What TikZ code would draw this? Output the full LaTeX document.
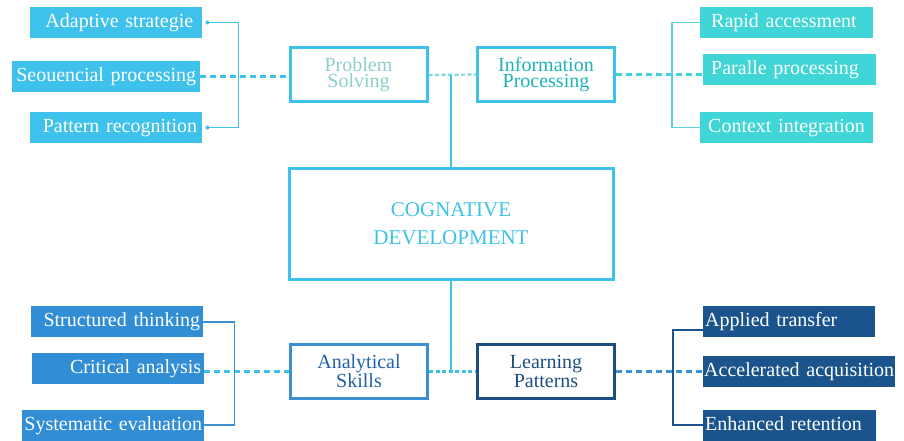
\documentclass[tikz,border=0pt]{standalone}
\usepackage{fontspec}
\setmainfont{Liberation Serif}
\usepackage{tikz}

\definecolor{skyc}{HTML}{3EC1EA}
\definecolor{turq}{HTML}{40D5D6}
\definecolor{midb}{HTML}{318ED5}
\definecolor{navy}{HTML}{1B548C}
\definecolor{psgrey}{HTML}{8CCFC9}
\definecolor{iptext}{HTML}{1DB3B8}
\definecolor{astext}{HTML}{2060A8}
\definecolor{asline}{HTML}{3A90D2}
\definecolor{lpline}{HTML}{1D4E80}
\definecolor{paleturq}{HTML}{5CCFE0}
\definecolor{midline}{HTML}{7FD6DC}

\tikzset{
  item/.style={anchor=west, fill=#1, text=white, inner ysep=0pt,
    minimum height=31pt, text height=14pt, text depth=4pt, font=\fontsize{20}{22}\selectfont},
  hub/.style={draw=#1, line width=3pt, minimum width=137pt, minimum height=54pt,
    align=center, font=\fontsize{20}{16}\selectfont},
  dots/.style={draw=#1, line width=3pt, dash pattern=on 6pt off 4pt},
  fine dots/.style={draw=#1, line width=2.2pt, dash pattern=on 4pt off 2.5pt},
  fork/.style={draw=#1, line width=1.5pt},
}

\begin{document}
\begin{tikzpicture}[x=1pt,y=-1pt]
     \useasboundingbox (0,0) rectangle (904,441);
     \node[item=skyc, inner xsep=9pt, text width=154pt, align=right] (ada) at (30,22.5) {Adaptive strategie};
     \node[item=skyc, inner xsep=4pt, text width=180pt, align=right] (seq) at (12,77) {Seouencial processing};
     \node[item=skyc, inner xsep=5pt, text width=162pt, align=right] (pat) at (30,127.5) {Pattern recognition};
     \node[item=turq, inner xsep=11pt, text width=151pt, align=left] (rap) at (700,22.5) {Rapid accessment};
     \node[item=turq, inner xsep=8pt, text width=157pt, align=left] (par) at (703,70) {Paralle processing};
     \node[item=turq, inner xsep=8pt, text width=157pt, align=left] (con) at (700,127.5) {Context integration};
     \node[item=midb, inner xsep=3pt, text width=166pt, align=right] (str) at (31,321) {Structured thinking};
     \node[item=midb, inner xsep=3pt, text width=166pt, align=right] (cri) at (32,368) {Critical analysis};
     \node[item=midb, inner xsep=2pt, text width=178pt, align=right] (sys) at (22,425) {Systematic evaluation};
     \node[item=navy, inner xsep=2pt, text width=168pt, align=left] (app) at (703,321) {Applied transfer};
     \node[item=navy, inner xsep=1pt, text width=190pt, align=left] (acc) at (703,371.5) {Accelerated acquisition};
     \node[item=navy, inner xsep=2pt, text width=169pt, align=left] (enh) at (703,425) {Enhanced retention};

     \node[hub=skyc, text=psgrey] (ps) at (358.5,75) {Problem\\Solving};
     \node[hub=skyc, text=iptext] (ip) at (546,74.5) {Information\\Processing};
     \node[hub=skyc, minimum width=324pt, minimum height=111pt, text=skyc,
           font=\fontsize{21}{28}\selectfont] (cd) at (451,223.5) {COGNATIVE\\DEVELOPMENT};
     \node[hub=asline, text=astext] (as) at (359,371.5) {Analytical\\Skills};
     \node[hub=lpline, text=lpline] (lp) at (546,371.5) {Learning\\Patterns};

     \draw[fork=skyc] ([xshift=5pt]ada.east) -| ([xshift=36pt]pat.east) -- ([xshift=5pt]pat.east);
     \fill[skyc] ([xshift=5pt]ada.east) circle (2pt);
     \fill[skyc] ([xshift=5pt]pat.east) circle (2pt);
     \draw[dots=skyc] (seq.east) -- (seq.east -| ps.west);
     \draw[fine dots=midline] (ps.east) -- (ip.west);
     \draw[fork=skyc] (cd.north) -- (cd.north |- ps.east);
     \draw[dots=turq] (ip.east) -- (ip.east -| par.west);
     \draw[fork=paleturq] (rap.west) -| ([xshift=-28pt]con.west) -- (con.west);

     \draw[fork=skyc] (cd.south) -- (cd.south |- as.east);
     \draw[fine dots=skyc] (as.east) -- (lp.west);
     \draw[dots=skyc] (as.west -| cri.east) -- (as.west);
     \draw[fork=asline] ([yshift=-1pt]str.east) -| ([xshift=30pt]sys.east) -- (sys.east);
     \draw[dots=asline] (lp.east) -- (acc.west);
     \draw[fork=navy] ([yshift=-9pt]app.west) -| ([xshift=-30pt]enh.west) -- (enh.west);
\end{tikzpicture}
\end{document}
